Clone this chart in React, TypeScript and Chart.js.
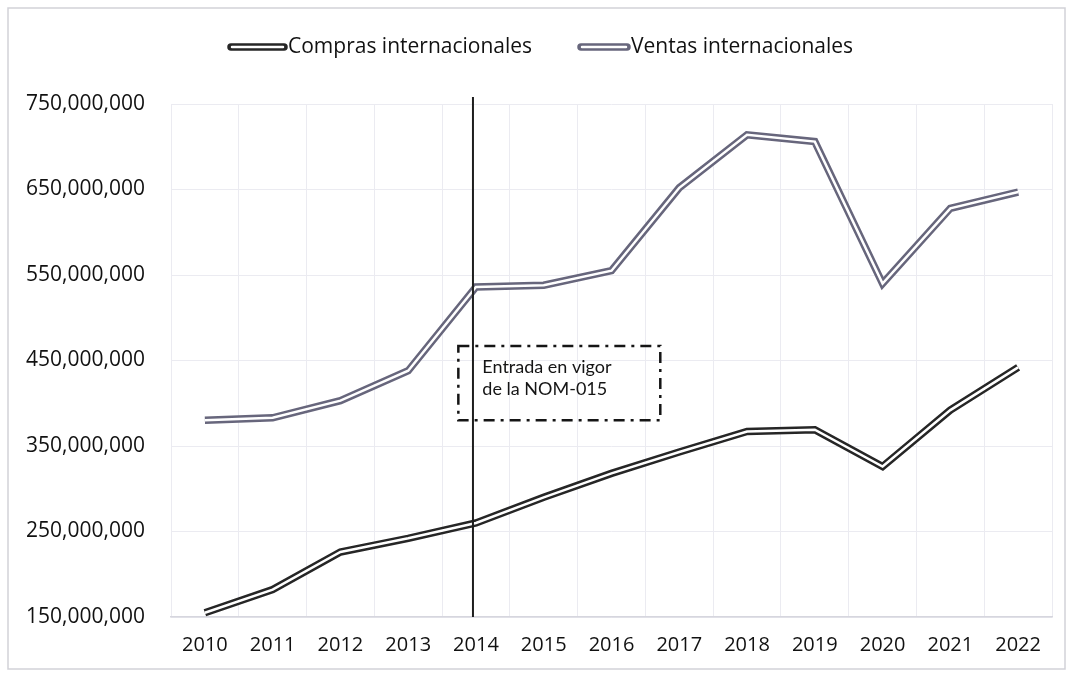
import React, { useEffect, useRef } from "react";
import { Chart, registerables } from "chart.js";

Chart.register(...registerables);

const years = ["2010", "2011", "2012", "2013", "2014", "2015", "2016", "2017", "2018", "2019", "2020", "2021", "2022"];
const comprasInternacionales = [155e6, 182e6, 226e6, 242e6, 260e6, 290e6, 318e6, 343e6, 367e6, 369e6, 326e6, 392e6, 442e6];
const ventasInternacionales = [380e6, 383e6, 403e6, 438e6, 536e6, 538e6, 555e6, 652e6, 714e6, 706e6, 540e6, 628e6, 647e6];
const seriesLabels = ["Compras internacionales", "Ventas internacionales"];
const annotationLines = ["Entrada en vigor", "de la NOM-015"];
const markerYear = "2014";

const COMPRAS_COLOR = "#262626";
const VENTAS_COLOR = "#67667c";
const FONT = "'Open Sans', 'Noto Sans', sans-serif";

const overlayPlugin = {
  id: "overlay",
  afterDraw(chart: any) {
    const ctx = chart.ctx;
    const xs = chart.scales.x;
    const ys = chart.scales.y;
    const area = chart.chartArea;
    ctx.save();

    // outer border of chart area
    ctx.strokeStyle = "#d2d2d8";
    ctx.lineWidth = 1.5;
    ctx.strokeRect(8, 8, chart.width - 10, chart.height - 12);

    // vertical marker line at 2014
    const mx = xs.getPixelForValue(years.indexOf(markerYear)) - 3;
    ctx.strokeStyle = "#1e1e1e";
    ctx.lineWidth = 2;
    ctx.beginPath();
    ctx.moveTo(mx, area.top - 7);
    ctx.lineTo(mx, area.bottom);
    ctx.stroke();

    // annotation box
    const bx0 = xs.getPixelForValue(3.74);
    const bx1 = xs.getPixelForValue(6.72);
    const by0 = ys.getPixelForValue(467e6);
    const by1 = ys.getPixelForValue(380e6);
    ctx.setLineDash([11, 6, 3, 6]);
    ctx.lineWidth = 2.5;
    ctx.strokeStyle = "#151515";
    ctx.strokeRect(bx0, by0, bx1 - bx0, by1 - by0);
    ctx.setLineDash([]);
    ctx.fillStyle = "#151515";
    ctx.font = "18px Lato, 'Open Sans', sans-serif";
    ctx.textAlign = "left";
    ctx.textBaseline = "middle";
    ctx.fillText(annotationLines[0], bx0 + 24, by0 + 21);
    ctx.fillText(annotationLines[1], bx0 + 24, by0 + 43);

    // legend
    const ly = 47;
    const items = [
      { label: seriesLabels[0], color: COMPRAS_COLOR, x0: 228, x1: 287 },
      { label: seriesLabels[1], color: VENTAS_COLOR, x0: 578, x1: 630 },
    ];
    ctx.font = "21px " + FONT;
    items.forEach((it) => {
      ctx.lineCap = "round";
      ctx.strokeStyle = it.color;
      ctx.lineWidth = 7.5;
      ctx.beginPath();
      ctx.moveTo(it.x0 + 3, ly);
      ctx.lineTo(it.x1 - 3, ly);
      ctx.stroke();
      ctx.strokeStyle = "#ffffff";
      ctx.lineWidth = 2.5;
      ctx.beginPath();
      ctx.moveTo(it.x0 + 4, ly);
      ctx.lineTo(it.x1 - 4, ly);
      ctx.stroke();
      ctx.fillStyle = "#111";
      ctx.textAlign = "left";
      ctx.textBaseline = "middle";
      ctx.fillText(it.label, it.x1 + 1, ly);
    });
    ctx.restore();
  },
};

export default function App() {
  const ref = useRef<HTMLCanvasElement>(null);
  useEffect(() => {
    document.body.style.margin = "0";
    const canvas = ref.current!;
    const lineCommon = {
      pointRadius: 0,
      tension: 0,
      borderJoinStyle: "miter" as const,
      fill: false,
    };
    const chart = new Chart(canvas, {
      type: "line",
      data: {
        labels: years,
        datasets: [
          { ...lineCommon, label: seriesLabels[0] + " inner", data: comprasInternacionales, borderColor: "#ffffff", borderWidth: 2.5, order: 0 },
          { ...lineCommon, label: seriesLabels[1] + " inner", data: ventasInternacionales, borderColor: "#ffffff", borderWidth: 2.5, order: 0 },
          { ...lineCommon, label: seriesLabels[0], data: comprasInternacionales, borderColor: COMPRAS_COLOR, borderWidth: 7.5, order: 1 },
          { ...lineCommon, label: seriesLabels[1], data: ventasInternacionales, borderColor: VENTAS_COLOR, borderWidth: 7.5, order: 1 },
        ],
      },
      options: {
        animation: false,
        responsive: false,
        maintainAspectRatio: false,
        layout: { padding: { top: 104, right: 15, bottom: 0, left: 0 } },
        plugins: { legend: { display: false }, tooltip: { enabled: false } },
        scales: {
          x: {
            offset: true,
            grid: { offset: true, color: "#ebebf1", lineWidth: 1, drawTicks: false },
            border: { color: "#d6d6de", width: 1.5 },
            ticks: { color: "#111", font: { family: FONT, size: 20 }, padding: 16, maxRotation: 0, autoSkip: false },
            afterFit: (s: any) => { s.height = 56; },
          },
          y: {
            min: 150e6,
            max: 750e6,
            grid: { color: "#ebebf1", lineWidth: 1, drawTicks: false },
            border: { display: false },
            ticks: {
              stepSize: 100e6,
              color: "#111",
              font: { family: FONT, size: 21 },
              padding: 26,
              callback: (v: any) => Number(v).toLocaleString("en-US"),
            },
            afterFit: (s: any) => { s.width = 171; },
          },
        },
      },
      plugins: [overlayPlugin],
    });
    return () => chart.destroy();
  }, []);
  return <canvas ref={ref} width={1067} height={673} style={{ display: "block" }} />;
}
